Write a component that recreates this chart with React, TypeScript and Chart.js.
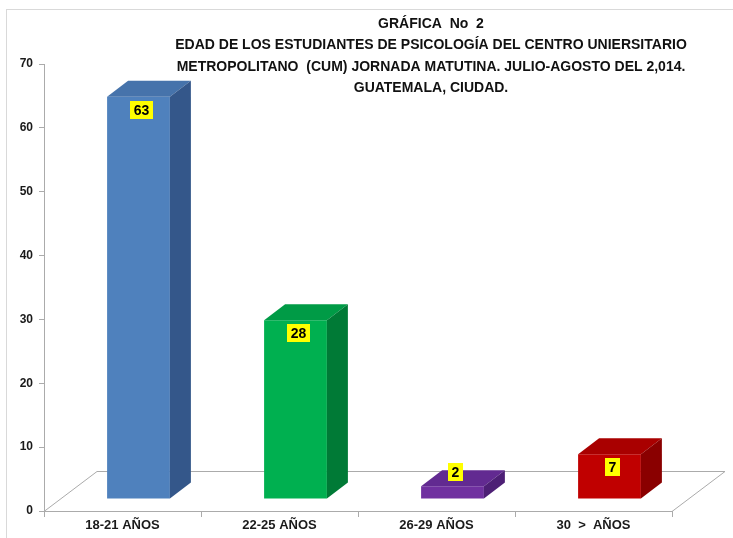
import React, { useEffect, useRef } from "react";
import { Chart, registerables } from "chart.js";

Chart.register(...registerables);

const categories = ["18-21 AÑOS", "22-25 AÑOS", "26-29 AÑOS", "30  >  AÑOS"];
const values = [63, 28, 2, 7];
const frontColors = ["#4F81BD", "#00B050", "#7030A0", "#C00000"];
const topColors = ["#4673AB", "#009B46", "#622A91", "#A90000"];
const sideColors = ["#34578A", "#007A36", "#4D1F75", "#8A0000"];
const yTicks = [0, 10, 20, 30, 40, 50, 60, 70];
const titleLines = [
  "GRÁFICA  No  2",
  "EDAD DE LOS ESTUDIANTES DE PSICOLOGÍA DEL CENTRO UNIERSITARIO",
  "METROPOLITANO  (CUM) JORNADA MATUTINA. JULIO-AGOSTO DEL 2,014.",
  "GUATEMALA, CIUDAD.",
];

const BAR_OFF = { x: 16, y: -12 };
const BAR_DEPTH = { x: 21, y: -16 };
const FLOOR_DEPTH = { x: 53, y: -40 };
const TITLE_FONT = 'bold 14px "Liberation Sans Narrow", "Liberation Sans", Arial, sans-serif';

const threeD = {
  id: "threeD",
  beforeDraw(chart: any) {
    const { ctx, width, height } = chart;
    ctx.save();
    ctx.fillStyle = "#ffffff";
    ctx.fillRect(0, 0, width, height);
    ctx.strokeStyle = "#D9D9D9";
    ctx.lineWidth = 1;
    ctx.strokeRect(6.5, 9.5, width + 20, height + 20);
    ctx.restore();
  },
  beforeDatasetsDraw(chart: any) {
    const { ctx, chartArea } = chart;
    const { left, right, bottom } = chartArea;
    ctx.save();
    ctx.strokeStyle = "#ABABAB";
    ctx.lineWidth = 1;
    ctx.beginPath();
    ctx.moveTo(left, bottom + 0.5);
    ctx.lineTo(right, bottom + 0.5);
    ctx.lineTo(right + FLOOR_DEPTH.x, bottom + FLOOR_DEPTH.y + 0.5);
    ctx.lineTo(left + FLOOR_DEPTH.x, bottom + FLOOR_DEPTH.y + 0.5);
    ctx.closePath();
    ctx.stroke();
    ctx.restore();
  },
  beforeDatasetDraw(chart: any) {
    chart.ctx.save();
    chart.ctx.translate(BAR_OFF.x, BAR_OFF.y);
  },
  afterDatasetDraw(chart: any) {
    chart.ctx.restore();
  },
  afterDatasetsDraw(chart: any) {
    const { ctx } = chart;
    const meta = chart.getDatasetMeta(0);
    meta.data.forEach((bar: any, i: number) => {
      const p = bar.getProps(["x", "y", "base", "width"], true);
      const x0 = p.x - p.width / 2 + BAR_OFF.x;
      const x1 = p.x + p.width / 2 + BAR_OFF.x;
      const yt = p.y + BAR_OFF.y;
      const yb = p.base + BAR_OFF.y;
      const dx = BAR_DEPTH.x;
      const dy = BAR_DEPTH.y;
      ctx.save();
      ctx.fillStyle = topColors[i];
      ctx.beginPath();
      ctx.moveTo(x0, yt);
      ctx.lineTo(x1, yt);
      ctx.lineTo(x1 + dx, yt + dy);
      ctx.lineTo(x0 + dx, yt + dy);
      ctx.closePath();
      ctx.fill();
      ctx.fillStyle = sideColors[i];
      ctx.beginPath();
      ctx.moveTo(x1, yt);
      ctx.lineTo(x1 + dx, yt + dy);
      ctx.lineTo(x1 + dx, yb + dy);
      ctx.lineTo(x1, yb);
      ctx.closePath();
      ctx.fill();

      // value label
      const text = String(values[i]);
      ctx.font = 'bold 14px "Liberation Sans Narrow", "Liberation Sans", Arial, sans-serif';
      const tw = ctx.measureText(text).width;
      const bw = tw + 7;
      const bh = 18;
      const cx = (x0 + x1) / 2 + 3;
      const cy = yb - yt > 30 ? yt + 13 : yt - 14;
      ctx.fillStyle = "#FFFF00";
      ctx.fillRect(Math.round(cx - bw / 2), Math.round(cy - bh / 2), Math.round(bw), bh);
      ctx.fillStyle = "#000000";
      ctx.textAlign = "center";
      ctx.textBaseline = "middle";
      ctx.fillText(text, cx, cy + 1);
      ctx.restore();
    });
  },
  afterDraw(chart: any) {
    const { ctx } = chart;
    ctx.save();
    ctx.font = TITLE_FONT;
    ctx.fillStyle = "#111111";
    ctx.textAlign = "center";
    ctx.textBaseline = "middle";
    const ys = [24, 45, 67, 88];
    titleLines.forEach((t, i) => ctx.fillText(t, 431, ys[i]));
    ctx.restore();
  },
};

export default function App() {
  const ref = useRef<HTMLCanvasElement | null>(null);
  useEffect(() => {
    if (!ref.current) return;
    const chart = new Chart(ref.current, {
      type: "bar",
      data: {
        labels: categories,
        datasets: [
          {
            data: values,
            backgroundColor: frontColors,
            borderWidth: 0,
            categoryPercentage: 1,
            barPercentage: 0.4,
          },
        ],
      },
      options: {
        animation: false,
        responsive: false,
        maintainAspectRatio: false,
        layout: { padding: { left: 0, top: 64, right: 61, bottom: 0 } },
        plugins: {
          legend: { display: false },
          title: { display: false },
          tooltip: { enabled: false },
        },
        scales: {
          x: {
            offset: true,
            grid: {
              offset: true,
              drawOnChartArea: false,
              tickLength: 6,
              color: "#ABABAB",
            },
            border: { display: false },
            ticks: {
              color: "#1a1a1a",
              font: { family: '"Liberation Sans", Arial, sans-serif', size: 13, weight: "bold" },
              padding: 1,
              maxRotation: 0,
            },
            afterFit: (s: any) => {
              s.height = 27;
            },
          },
          y: {
            min: 0,
            max: 70,
            afterBuildTicks: (s: any) => {
              s.ticks = yTicks.map((v) => ({ value: v }));
            },
            grid: {
              drawOnChartArea: false,
              tickLength: 5,
              color: "#ABABAB",
            },
            border: { display: true, color: "#ABABAB" },
            ticks: {
              color: "#1a1a1a",
              font: { family: '"Liberation Sans", Arial, sans-serif', size: 12, weight: "bold" },
              padding: 6,
            },
            afterFit: (s: any) => {
              s.width = 44;
            },
          },
        },
      },
      plugins: [threeD],
    });
    return () => chart.destroy();
  }, []);
  return (
    <div style={{ position: "fixed", left: 0, top: 0, width: 733, height: 538, background: "#fff" }}>
      <canvas ref={ref} width={733} height={538} style={{ display: "block", width: 733, height: 538 }} />
    </div>
  );
}
